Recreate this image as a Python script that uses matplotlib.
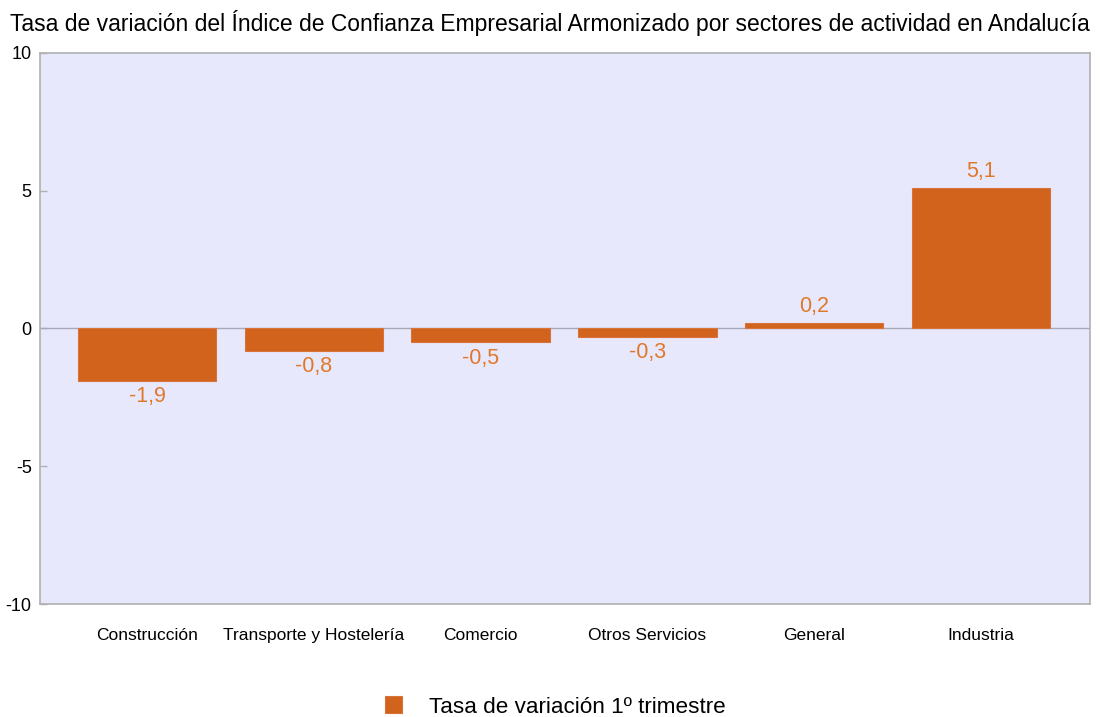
import matplotlib.pyplot as plt

plt.rcParams['font.family'] = ['Liberation Sans', 'DejaVu Sans']

# datos
sectores = ['Construcción', 'Transporte y Hostelería', 'Comercio',
            'Otros Servicios', 'General', 'Industria']
tasa = [-1.9, -0.8, -0.5, -0.3, 0.2, 5.1]
etiquetas = ['-1,9', '-0,8', '-0,5', '-0,3', '0,2', '5,1']
yticks = [-10, -5, 0, 5, 10]

fig = plt.figure(figsize=(11, 7.17), dpi=100)
ax = fig.add_axes([0.0364, 0.1576, 0.9545, 0.7685])
ax.set_facecolor('#E8E8FC')

x = range(len(sectores))
bars = ax.bar(x, tasa, width=0.83, color='#D2631C', edgecolor='#D8733A',
              linewidth=0.8, label='Tasa de variación 1º trimestre', zorder=3)
ax.axhline(0, color='#A8A8B8', linewidth=1, zorder=2)

for b, v, t in zip(bars, tasa, etiquetas):
    if v >= 0:
        ax.annotate(t, (b.get_x() + b.get_width() / 2, v), xytext=(0, 4),
                    textcoords='offset points', ha='center', va='bottom',
                    fontsize=15.5, color='#E0782A')
    else:
        ax.annotate(t, (b.get_x() + b.get_width() / 2, v), xytext=(0, -4),
                    textcoords='offset points', ha='center', va='top',
                    fontsize=15.5, color='#E0782A')

ax.set_xlim(-0.641, 5.653)
ax.set_ylim(-10, 10)
ax.set_yticks(yticks)
ax.set_yticklabels([str(v) for v in yticks], fontsize=13)
ax.set_xticks(list(x))
ax.set_xticklabels(sectores, fontsize=12.5)
ax.tick_params(axis='y', direction='in', length=5, width=1, color='#B0B0B0', pad=6)
ax.tick_params(axis='x', length=0, pad=17)
for s in ax.spines.values():
    s.set_color('#B0B0B0')
    s.set_linewidth(1.2)

fig.text(0.5, 0.968, 'Tasa de variación del Índice de Confianza Empresarial Armonizado por sectores de actividad en Andalucía',
         ha='center', va='center', fontsize=16.5)

fig.legend(loc='center', bbox_to_anchor=(0.505, 0.014), frameon=False,
           fontsize=16.2, handlelength=0.75, handleheight=0.75, handletextpad=1.2)

fig.savefig('out.png', dpi=100)
